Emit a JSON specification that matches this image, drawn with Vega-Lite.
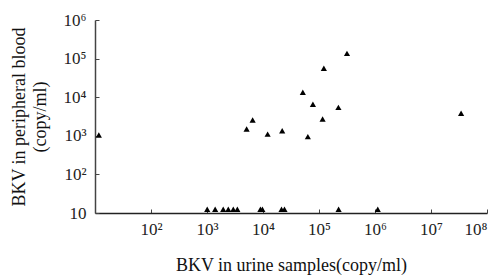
{
  "$schema": "https://vega.github.io/schema/vega-lite/v6.json",
  "width": 392,
  "height": 193,
  "autosize": {"type": "none"},
  "padding": {"left": 95, "top": 20, "right": 2, "bottom": 66},
  "background": "white",
  "config": {
    "view": {"stroke": null},
    "font": "Liberation Serif",
    "axis": {"labelFont": "Liberation Serif", "titleFont": "Liberation Serif"}
  },
  "data": {
    "values": [
      {"urine": 11.7, "blood": 1050},
      {"urine": 5100, "blood": 1500},
      {"urine": 6530, "blood": 2560},
      {"urine": 12100, "blood": 1110},
      {"urine": 22000, "blood": 1350},
      {"urine": 51400, "blood": 13400},
      {"urine": 63200, "blood": 950},
      {"urine": 77800, "blood": 6550},
      {"urine": 116000, "blood": 2720},
      {"urine": 122000, "blood": 56100},
      {"urine": 222000, "blood": 5470},
      {"urine": 316000, "blood": 137000},
      {"urine": 34500000, "blood": 3830},
      {"urine": 1010, "blood": 12.5},
      {"urine": 1400, "blood": 12.5},
      {"urine": 1950, "blood": 12.5},
      {"urine": 2400, "blood": 12.5},
      {"urine": 2950, "blood": 12.5},
      {"urine": 3480, "blood": 12.5},
      {"urine": 8980, "blood": 12.5},
      {"urine": 9750, "blood": 12.5},
      {"urine": 21400, "blood": 12.5},
      {"urine": 24200, "blood": 12.5},
      {"urine": 224000, "blood": 12.5},
      {"urine": 1120000, "blood": 12.5}
    ]
  },
  "mark": {"type": "point", "shape": "triangle-up", "filled": true, "color": "black", "opacity": 1, "size": 38},
  "encoding": {
    "x": {
      "field": "urine",
      "type": "quantitative",
      "scale": {"type": "log", "domain": [10, 100000000], "nice": false},
      "axis": {
        "values": [100, 1000, 10000, 100000, 1000000, 10000000, 100000000],
        "labelExpr": "['10','10','10²','10³','10⁴','10⁵','10⁶','10⁷','10⁸'][round(log(datum.value)/LN10)]",
        "grid": false,
        "domainColor": "#222",
        "domainWidth": 1.5,
        "tickColor": "#444",
        "tickSize": -4,
        "labelFont": "Liberation Serif",
        "labelFontSize": 17,
        "labelColor": "#222",
        "labelPadding": 12,
        "labelFlush": true,
        "labelOverlap": false,
        "title": "BKV in urine samples(copy/ml)",
        "titleFont": "Liberation Serif",
        "titleFontSize": 18,
        "titleFontWeight": "normal",
        "titleColor": "#111",
        "titlePadding": 19
      }
    },
    "y": {
      "field": "blood",
      "type": "quantitative",
      "scale": {"type": "log", "domain": [10, 1000000], "nice": false},
      "axis": {
        "values": [10, 100, 1000, 10000, 100000, 1000000],
        "labelExpr": "['10','10','10²','10³','10⁴','10⁵','10⁶'][round(log(datum.value)/LN10)]",
        "grid": false,
        "domainColor": "#444",
        "domainWidth": 1.5,
        "tickColor": "#444",
        "tickSize": -4,
        "labelFont": "Liberation Serif",
        "labelFontSize": 17,
        "labelColor": "#222",
        "labelPadding": 13,
        "labelFlush": false,
        "labelOverlap": false,
        "title": ["BKV in peripheral blood", "(copy/ml)"],
        "titleFont": "Liberation Serif",
        "titleFontSize": 18,
        "titleFontWeight": "normal",
        "titleColor": "#111",
        "titleLineHeight": 21,
        "titlePadding": 14
      }
    }
  }
}
